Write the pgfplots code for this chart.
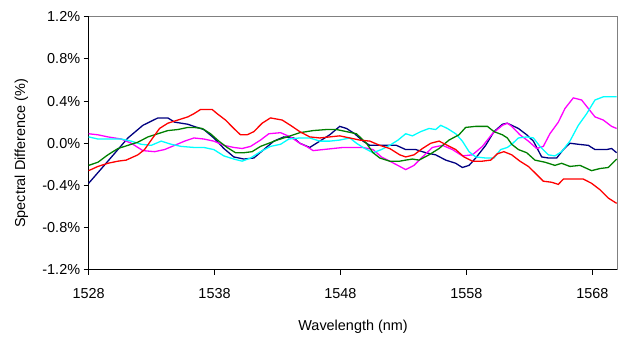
\documentclass[border=0pt]{standalone}
\usepackage{fontspec}
\setmainfont{Liberation Sans}
\usepackage{pgfplots}
\pgfplotsset{compat=1.18}
\definecolor{cnavy}{RGB}{0,0,128}
\definecolor{cred}{RGB}{255,0,0}
\definecolor{cgreen}{RGB}{0,128,0}
\definecolor{cmag}{RGB}{255,0,255}
\definecolor{ccyan}{RGB}{0,255,255}
\begin{document}
\begin{tikzpicture}
\begin{axis}[
  scale only axis,
  width=529.3bp, height=253.3bp,
  xmin=1528, xmax=1570,
  ymin=-1.2, ymax=1.2,
  xtick={1528,1538,1548,1558,1568},
  ytick={-1.2,-0.8,-0.4,0,0.4,0.8,1.2},
  axis lines*=left,
  axis line style={line width=0.9bp},
  tick align=outside,
  major tick length=5bp,
  tick style={black, line width=0.9bp},
  clip=false,
  /pgf/number format/assume math mode=true,
  xticklabel style={font=\fontsize{14.5}{17}\selectfont, yshift=-10bp},
  yticklabel style={font=\fontsize{14.5}{17}\selectfont},
  yticklabel={\pgfmathprintnumber[fixed,fixed zerofill,precision=1]{\tick}\%},
  xticklabel={\pgfmathprintnumber[fixed,precision=0,set thousands separator={}]{\tick}},
  xlabel={Wavelength (nm)},
  ylabel={Spectral Difference (\%)},
  every axis x label/.style={at={(axis description cs:0.5,0)}, anchor=base, yshift=-61bp, font=\fontsize{14.5}{17}\selectfont},
  every axis y label/.style={at={(axis description cs:-0.127,0.46)}, rotate=90, anchor=center, font=\fontsize{14.5}{17}\selectfont},
]
\pgfplotsinvokeforeach{1528,1538,1548,1558,1568}{
  \draw[black, line width=0.9bp] (axis cs:#1,-1.2) -- ([yshift=-5bp]axis cs:#1,-1.2);
}
\pgfplotsinvokeforeach{-1.2,-0.8,-0.4,0,0.4,0.8,1.2}{
  \draw[black, line width=0.9bp] (axis cs:1528,#1) -- ([xshift=-5bp]axis cs:1528,#1);
}
% navy
\addplot[cnavy, line width=1.3bp] coordinates {(1528,-0.38) (1529.53,-0.17) (1531.12,0.05) (1532.31,0.17) (1533.50,0.24) (1534.29,0.24) (1534.83,0.20) (1535.88,0.18) (1536.36,0.16) (1537.15,0.13) (1537.94,0.05) (1538.74,-0.05) (1539.53,-0.13) (1540.33,-0.15) (1541.12,-0.14) (1541.91,-0.06) (1542.71,0.02) (1543.50,0.06) (1544.29,0.05) (1544.77,0.00) (1545.56,-0.04) (1546.36,0.02) (1547.15,0.08) (1547.94,0.16) (1548.48,0.14) (1549.13,0.09) (1549.79,0.02) (1550.33,-0.02) (1551.12,-0.02) (1552.44,-0.02) (1553.18,-0.06) (1553.98,-0.06) (1554.77,-0.09) (1555.56,-0.11) (1556.36,-0.16) (1557.15,-0.19) (1557.68,-0.23) (1558.21,-0.21) (1558.74,-0.14) (1559.53,-0.02) (1560.19,0.11) (1560.86,0.18) (1561.25,0.19) (1561.60,0.17) (1562.13,0.14) (1562.79,0.08) (1563.32,0.02) (1563.98,-0.13) (1564.51,-0.14) (1565.17,-0.14) (1565.70,-0.06) (1566.22,0.00) (1566.89,-0.01) (1567.68,-0.02) (1568.21,-0.06) (1569.13,-0.06) (1569.53,-0.05) (1569.93,-0.09)};
% magenta
\addplot[cmag, line width=1.3bp] coordinates {(1528,0.09) (1528.74,0.08) (1529.53,0.06) (1530.59,0.04) (1531.38,0.00) (1532.31,-0.07) (1533.24,-0.08) (1534.03,-0.06) (1534.83,-0.02) (1535.62,0.02) (1536.36,0.05) (1537.15,0.04) (1537.94,0.02) (1538.74,-0.02) (1539.53,-0.04) (1540.19,-0.05) (1540.86,-0.03) (1541.65,0.03) (1542.31,0.09) (1543.24,0.10) (1544.03,0.06) (1544.77,0.00) (1545.30,-0.03) (1545.83,-0.07) (1546.62,-0.06) (1547.41,-0.05) (1548.21,-0.04) (1549.00,-0.04) (1549.79,-0.04) (1550.59,-0.06) (1551.25,-0.13) (1551.91,-0.17) (1552.71,-0.22) (1553.18,-0.25) (1553.84,-0.21) (1554.51,-0.13) (1555.30,-0.04) (1556.10,-0.02) (1556.89,-0.06) (1557.68,-0.12) (1558.48,-0.11) (1559.27,-0.03) (1560.06,0.09) (1560.86,0.17) (1561.25,0.19) (1561.60,0.16) (1562.25,0.08) (1562.92,0.02) (1563.58,-0.05) (1564.11,-0.03) (1564.63,0.09) (1565.30,0.20) (1565.83,0.33) (1566.49,0.43) (1567.15,0.41) (1567.68,0.33) (1568.21,0.25) (1568.87,0.22) (1569.53,0.16) (1569.93,0.14)};
% cyan
\addplot[ccyan, line width=1.3bp] coordinates {(1528,0.06) (1528.74,0.04) (1529.53,0.04) (1530.59,0.04) (1531.38,0.02) (1532.17,-0.01) (1532.97,-0.02) (1533.76,0.02) (1534.56,-0.01) (1535.35,-0.03) (1536.36,-0.04) (1537.15,-0.04) (1537.94,-0.06) (1538.74,-0.12) (1539.53,-0.15) (1540.19,-0.17) (1540.86,-0.14) (1541.65,-0.08) (1542.44,-0.03) (1543.24,-0.01) (1543.90,0.04) (1544.77,0.05) (1545.56,0.05) (1546.36,0.02) (1547.15,0.02) (1547.94,0.03) (1548.74,0.05) (1549.27,0.00) (1549.93,-0.05) (1550.59,-0.09) (1551.25,-0.06) (1551.91,-0.02) (1552.57,0.03) (1553.18,0.09) (1553.71,0.07) (1554.37,0.11) (1555.03,0.14) (1555.56,0.13) (1555.96,0.17) (1556.49,0.14) (1557.15,0.09) (1557.68,0.02) (1558.21,-0.08) (1558.74,-0.13) (1559.53,-0.14) (1560.19,-0.14) (1560.72,-0.06) (1561.25,-0.04) (1561.60,-0.01) (1562.13,0.05) (1562.79,0.06) (1563.32,0.05) (1563.84,-0.03) (1564.51,-0.11) (1565.03,-0.12) (1565.56,-0.08) (1566.22,0.02) (1566.89,0.17) (1567.55,0.28) (1568.21,0.41) (1568.87,0.44) (1569.93,0.44)};
% green
\addplot[cgreen, line width=1.3bp] coordinates {(1528,-0.21) (1528.74,-0.18) (1529.53,-0.11) (1530.33,-0.05) (1531.12,-0.02) (1531.91,0.01) (1532.71,0.06) (1533.50,0.09) (1534.29,0.12) (1535.09,0.13) (1535.88,0.15) (1536.36,0.15) (1537.02,0.14) (1537.68,0.09) (1538.34,0.02) (1539.00,-0.04) (1539.67,-0.09) (1540.33,-0.09) (1540.98,-0.08) (1541.65,-0.03) (1542.31,0.00) (1542.97,0.03) (1543.76,0.06) (1544.77,0.10) (1545.83,0.12) (1546.89,0.13) (1547.68,0.13) (1548.48,0.11) (1549.27,0.09) (1550.06,0.00) (1550.59,-0.09) (1551.12,-0.14) (1551.91,-0.17) (1552.71,-0.17) (1553.18,-0.16) (1553.71,-0.15) (1554.24,-0.16) (1555.03,-0.11) (1555.83,-0.05) (1556.62,0.03) (1557.41,0.08) (1557.94,0.15) (1558.74,0.16) (1559.67,0.16) (1560.19,0.11) (1560.86,0.08) (1561.25,0.05) (1561.60,-0.01) (1562.13,-0.06) (1562.79,-0.09) (1563.44,-0.16) (1564.24,-0.18) (1565.03,-0.21) (1565.56,-0.19) (1566.22,-0.22) (1567.02,-0.21) (1567.94,-0.26) (1568.60,-0.24) (1569.27,-0.23) (1569.93,-0.15)};
% red
\addplot[cred, line width=1.3bp] coordinates {(1528,-0.26) (1528.74,-0.22) (1529.53,-0.19) (1530.33,-0.17) (1530.98,-0.16) (1531.91,-0.11) (1532.44,-0.06) (1532.97,0.03) (1533.63,0.14) (1534.29,0.19) (1535.09,0.22) (1535.88,0.25) (1536.36,0.28) (1536.89,0.32) (1537.81,0.32) (1538.21,0.28) (1538.87,0.22) (1539.53,0.14) (1540.06,0.08) (1540.59,0.08) (1541.12,0.11) (1541.78,0.19) (1542.44,0.24) (1543.37,0.22) (1544.03,0.17) (1544.77,0.11) (1545.56,0.06) (1546.36,0.05) (1547.15,0.06) (1547.94,0.07) (1548.74,0.05) (1549.53,0.03) (1550.33,0.02) (1551.12,-0.02) (1551.91,-0.05) (1552.71,-0.11) (1553.18,-0.13) (1553.84,-0.11) (1554.51,-0.05) (1555.17,0.00) (1555.83,0.02) (1556.49,-0.02) (1557.15,-0.06) (1557.81,-0.13) (1558.48,-0.17) (1559.27,-0.17) (1559.93,-0.16) (1560.46,-0.10) (1560.98,-0.08) (1561.60,-0.11) (1562.25,-0.17) (1562.92,-0.22) (1563.44,-0.28) (1564.11,-0.36) (1564.77,-0.37) (1565.30,-0.39) (1565.70,-0.34) (1566.36,-0.34) (1567.29,-0.34) (1567.94,-0.38) (1568.60,-0.44) (1569.27,-0.52) (1569.93,-0.57)};
\end{axis}
\draw[gray, line width=0.9bp] (current axis.north west) -- (current axis.north east) -- (current axis.south east);
\path ([shift={(-88.7bp,-65.3bp)}]current axis.south west) rectangle ([shift={(0.5bp,16.7bp)}]current axis.north east);
\end{tikzpicture}
\end{document}
